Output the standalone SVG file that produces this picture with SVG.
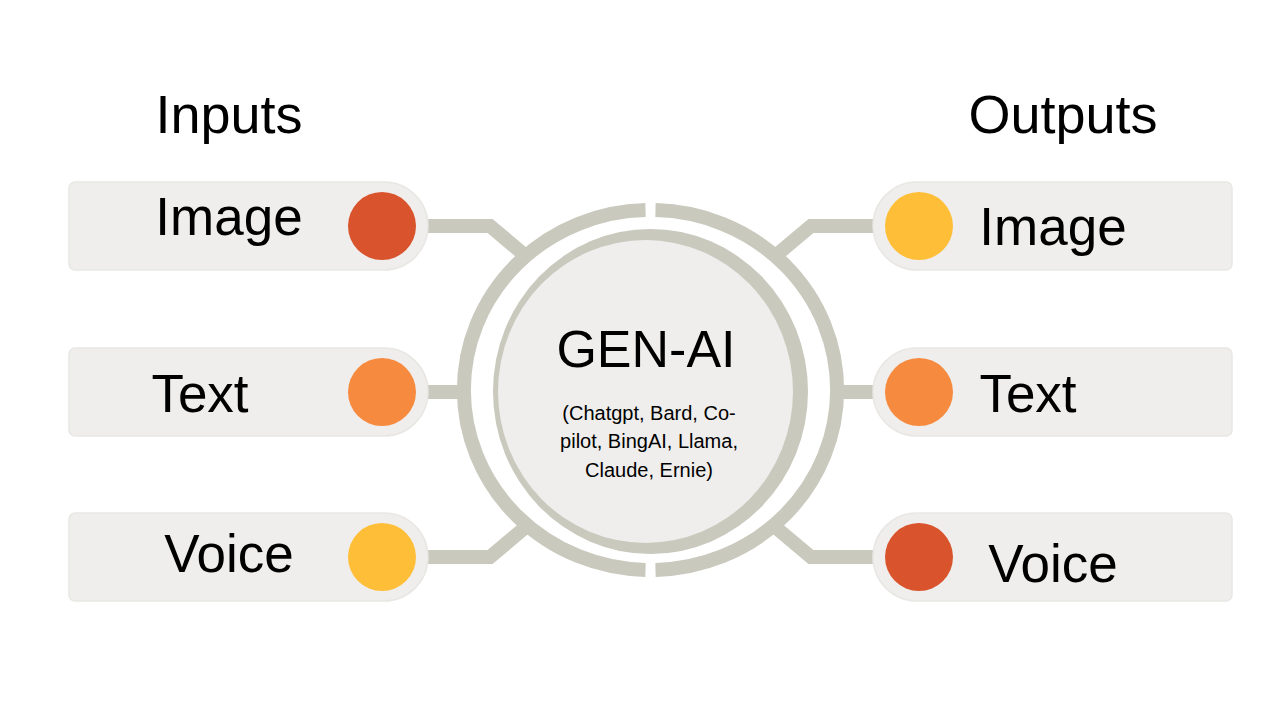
<svg xmlns="http://www.w3.org/2000/svg" width="1280" height="720" viewBox="0 0 1280 720">
<style>
.lbl{font-family:"Liberation Sans",Arial,sans-serif;fill:#000;}
.big{font-size:53px;}
.box{fill:#efeeec;stroke:#e8e7e4;stroke-width:1.5;}
.conn{fill:none;stroke:#c9c9be;stroke-width:14;stroke-linejoin:miter;}
.ring{fill:none;stroke:#c9c9be;stroke-width:14;}
</style>
<rect width="1280" height="720" fill="#ffffff"/>
<text class="lbl" x="229" y="133" font-size="54" text-anchor="middle">Inputs</text>
<text class="lbl" x="1063" y="133" font-size="54" text-anchor="middle">Outputs</text>
<g id="connectors">
<path class="conn" d="M428,226 H490 L527,257"/>
<path class="conn" d="M428,392 H466"/>
<path class="conn" d="M428,557 H490 L527,526"/>
<path class="conn" d="M873,226 H811 L774,257"/>
<path class="conn" d="M873,392 H834"/>
<path class="conn" d="M873,557 H811 L774,526"/>
</g>
<g id="gen-ai">
<path class="ring" d="M645.5,210.05 A186,180 0 0 0 645.5,569.95"/>
<path class="ring" d="M655.5,210.05 A186,180 0 0 1 655.5,569.95"/>
<ellipse cx="650.5" cy="391.5" rx="157.5" ry="162.5" fill="#c9c9be"/>
<ellipse cx="645.5" cy="391.5" rx="147.5" ry="151.5" fill="#efeeec"/>
<text class="lbl" x="646" y="367" font-size="52" text-anchor="middle">GEN-AI</text>
<text class="lbl" x="649" y="420" font-size="20" text-anchor="middle">(Chatgpt, Bard, Co-</text>
<text class="lbl" x="649" y="448" font-size="20" text-anchor="middle">pilot, BingAI, Llama,</text>
<text class="lbl" x="649" y="477" font-size="20" text-anchor="middle">Claude, Ernie)</text>
</g>
<g id="in-image">
<path class="box" d="M75,182 H384 A44,44 0 0 1 384,270 H75 A6,6 0 0 1 69,264 V188 A6,6 0 0 1 75,182 Z"/>
<circle cx="382" cy="226" r="34" fill="#d9532c"/>
<text class="lbl big" x="229" y="235" text-anchor="middle">Image</text>
</g>
<g id="in-text">
<path class="box" d="M75,348 H384 A44,44 0 0 1 384,436 H75 A6,6 0 0 1 69,430 V354 A6,6 0 0 1 75,348 Z"/>
<circle cx="382" cy="392" r="34" fill="#f68a3f"/>
<text class="lbl big" x="200" y="412" text-anchor="middle">Text</text>
</g>
<g id="in-voice">
<path class="box" d="M75,513 H384 A44,44 0 0 1 384,601 H75 A6,6 0 0 1 69,595 V519 A6,6 0 0 1 75,513 Z"/>
<circle cx="382" cy="557" r="34" fill="#ffbe38"/>
<text class="lbl big" x="229" y="572" text-anchor="middle">Voice</text>
</g>
<g id="out-image">
<path class="box" d="M1226,182 H917 A44,44 0 0 0 917,270 H1226 A6,6 0 0 0 1232,264 V188 A6,6 0 0 0 1226,182 Z"/>
<circle cx="919" cy="226" r="34" fill="#ffbe38"/>
<text class="lbl big" x="1053" y="245" text-anchor="middle">Image</text>
</g>
<g id="out-text">
<path class="box" d="M1226,348 H917 A44,44 0 0 0 917,436 H1226 A6,6 0 0 0 1232,430 V354 A6,6 0 0 0 1226,348 Z"/>
<circle cx="919" cy="392" r="34" fill="#f68a3f"/>
<text class="lbl big" x="1028" y="412" text-anchor="middle">Text</text>
</g>
<g id="out-voice">
<path class="box" d="M1226,513 H917 A44,44 0 0 0 917,601 H1226 A6,6 0 0 0 1232,595 V519 A6,6 0 0 0 1226,513 Z"/>
<circle cx="919" cy="557" r="34" fill="#d9532c"/>
<text class="lbl big" x="1053" y="582" text-anchor="middle">Voice</text>
</g>
</svg>
